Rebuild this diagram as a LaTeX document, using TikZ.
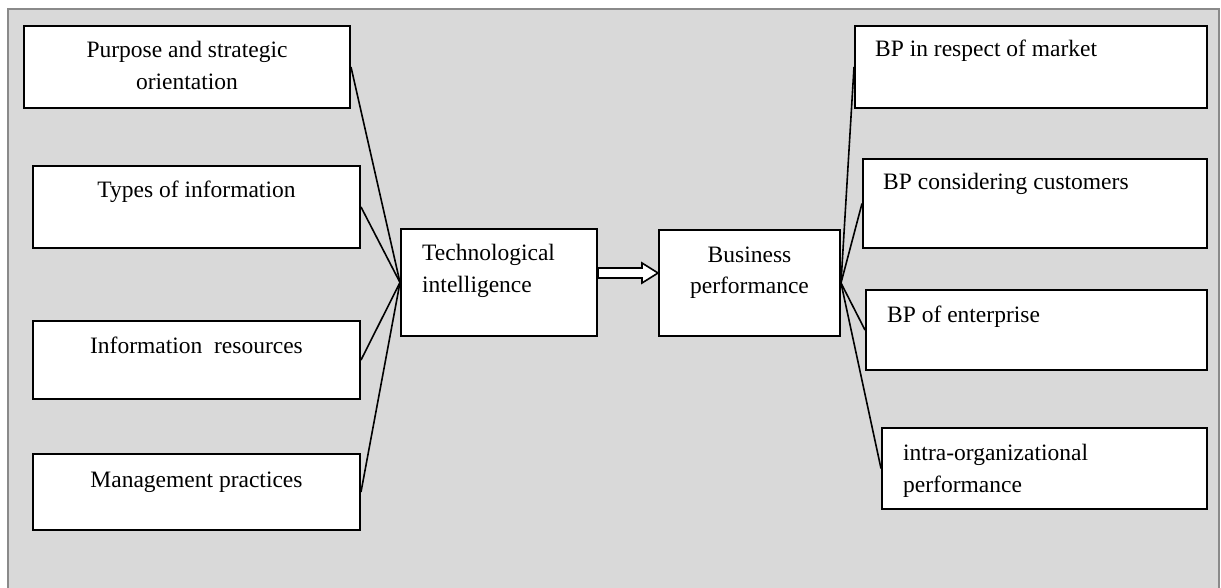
\documentclass[tikz,border=0pt]{standalone}
\usepackage{fontspec}
\setmainfont{Liberation Serif}
\usetikzlibrary{calc}
\definecolor{panelgray}{HTML}{D9D9D9}
\definecolor{framegray}{HTML}{8A8A8A}
\begin{document}
\begin{tikzpicture}[x=1pt,y=-1pt,
  box/.style={draw=black, fill=white, line width=2pt, rectangle,
    inner sep=0pt, anchor=north west},
  ctext/.style={inner sep=0pt, anchor=base, align=center,
    font=\fontsize{23.5}{31.5}\selectfont},
  ltext/.style={inner sep=0pt, anchor=base west, align=left,
    font=\fontsize{23.5}{31.5}\selectfont},
  link/.style={draw=black, line width=1.6pt}]
\useasboundingbox (0,0) rectangle (1221,588);
% background panel, open at the bottom
\fill[panelgray] (8,9) rectangle (1219,588);
\draw[framegray, line width=2pt] (8,588) -- (8,9) -- (1219,9) -- (1219,588);

% left column
\node[box, minimum width=326pt, minimum height=82pt] (b1) at (23,25) {};
\node[box, minimum width=327pt, minimum height=82pt] (b2) at (32,165) {};
\node[box, minimum width=327pt, minimum height=78pt] (b3) at (32,320) {};
\node[box, minimum width=327pt, minimum height=76pt] (b4) at (32,453) {};
% two-line labels are anchored on their last baseline
\node[ctext] (b1t) at ($(b1.north)+(0,33+31.5)$) {Purpose and strategic\\orientation};
\node[ctext] (b2t) at ($(b2.north)+(0,33)$) {Types of information};
\node[ctext] (b3t) at ($(b3.north)+(0,33)$) {Information\ \ resources};
\node[ctext] (b4t) at ($(b4.north)+(0,34)$) {Management practices};

% centre pair
\node[box, minimum width=196pt, minimum height=107pt] (ti) at (400,228) {};
\node[ltext] (tit) at ($(ti.north west)+(22,33+31)$) {Technological\\intelligence};
\node[box, minimum width=181pt, minimum height=106pt] (bp) at (658,229) {};
\node[ctext] (bpt) at ($(bp.north)+(0,34+31)$) {Business\\performance};

% right column
\node[box, minimum width=352pt, minimum height=82pt] (r1) at (854,25) {};
\node[box, minimum width=344pt, minimum height=89pt] (r2) at (862,158) {};
\node[box, minimum width=341pt, minimum height=80pt] (r3) at (865,289) {};
\node[box, minimum width=325pt, minimum height=81pt] (r4) at (881,427) {};
\node[ltext] (r1t) at ($(r1.north west)+(21,32)$) {BP in respect of market};
\node[ltext] (r2t) at ($(r2.north west)+(21,32)$) {BP considering customers};
\node[ltext] (r3t) at ($(r3.north west)+(22,33)$) {BP of enterprise};
\node[ltext] (r4t) at ($(r4.north west)+(22,33+32)$) {intra-organizational\\performance};

% fan-in and fan-out connectors
\foreach \n in {b1,b2,b3,b4} \draw[link] (\n.east) -- (ti.west);
\foreach \n in {r1,r2,r3,r4} \draw[link] (bp.east) -- (\n.west);

% hollow block arrow between the centre boxes
\coordinate (ta) at ($(ti.east)+(0,-9.5)$);
\coordinate (tb) at ($(bp.west)+(0,-10)$);
\draw[fill=white, line width=1.6pt, line join=miter]
  ($(ta)+(0,-5)$) -- ($(tb)+(-16,-5)$) -- ($(tb)+(-16,-10)$) -- (tb)
  -- ($(tb)+(-16,10)$) -- ($(tb)+(-16,5)$) -- ($(ta)+(0,5)$) -- cycle;
\end{tikzpicture}
\end{document}
